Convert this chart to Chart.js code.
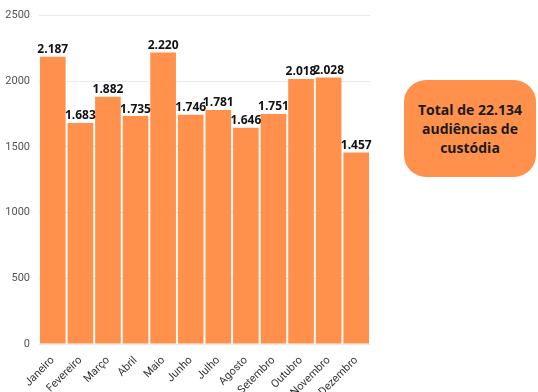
<!DOCTYPE html>
<html>
<head>
<meta charset="utf-8">
<script src="https://cdn.jsdelivr.net/npm/chart.js@4/dist/chart.umd.min.js"></script>
<style>
  html, body { margin: 0; padding: 0; background: #fff; }
  #wrap { position: absolute; left: 0; top: 0; width: 380px; height: 392px; }
  #box {
    position: absolute; left: 404px; top: 80px; width: 132px; height: 97px;
    background: #ff914d; border-radius: 22px;
    display: flex; align-items: center; justify-content: center; text-align: center;
    font-family: "Open Sans", sans-serif; font-weight: bold; font-size: 14px; line-height: 19px;
    color: #1a1a1a;
  }
</style>
</head>
<body>
<div id="wrap"><canvas id="c"></canvas></div>
<div id="box">Total de 22.134<br>audiências de<br>custódia</div>
<script>
// ── DATA ──────────────────────────────────
const months = ['Janeiro', 'Fevereiro', 'Março', 'Abril', 'Maio', 'Junho',
                'Julho', 'Agosto', 'Setembro', 'Outubro', 'Novembro', 'Dezembro'];
const audiencias = [2187, 1683, 1882, 1735, 2220, 1746, 1781, 1646, 1751, 2018, 2028, 1457];
const yTicks = [0, 500, 1000, 1500, 2000, 2500];

const fmt = v => v.toLocaleString('pt-BR');

// value labels above bars
const valueLabels = {
  id: 'valueLabels',
  afterDatasetsDraw(chart) {
    const ctx = chart.ctx;
    const meta = chart.getDatasetMeta(0);
    ctx.save();
    ctx.font = 'bold 12px "Open Sans", sans-serif';
    ctx.fillStyle = '#111';
    ctx.textAlign = 'center';
    ctx.textBaseline = 'bottom';
    meta.data.forEach((bar, i) => {
      ctx.fillText(fmt(audiencias[i]), bar.x, bar.y - 1);
    });
    ctx.restore();
  }
};

new Chart(document.getElementById('c'), {
  type: 'bar',
  data: {
    labels: months,
    datasets: [{
      data: audiencias,
      backgroundColor: '#ff914d',
      borderWidth: 0,
      barPercentage: 0.93,
      categoryPercentage: 1
    }]
  },
  options: {
    responsive: true, maintainAspectRatio: false, animation: false,
    layout: { padding: { top: 14, right: 10, left: 0, bottom: 0 } },
    plugins: { legend: { display: false }, tooltip: { enabled: false } },
    scales: {
      x: {
        grid: { display: false },
        border: { display: false },
        ticks: {
          autoSkip: false, minRotation: 45, maxRotation: 45,
          color: '#333', font: { size: 11, family: 'Roboto' }, padding: 2
        },
        afterFit(s) { s.height = 48; }
      },
      y: {
        min: 0, max: 2500,
        afterBuildTicks(s) { s.ticks = yTicks.map(v => ({ value: v })); },
        grid: { color: '#e9e9e9', drawTicks: false },
        border: { display: false },
        ticks: { color: '#555', font: { size: 11, family: 'Roboto' }, padding: 9,
                 callback: v => String(v) },
        afterFit(s) { s.width = 39; }
      }
    }
  },
  plugins: [valueLabels]
});
</script>
</body>
</html>
